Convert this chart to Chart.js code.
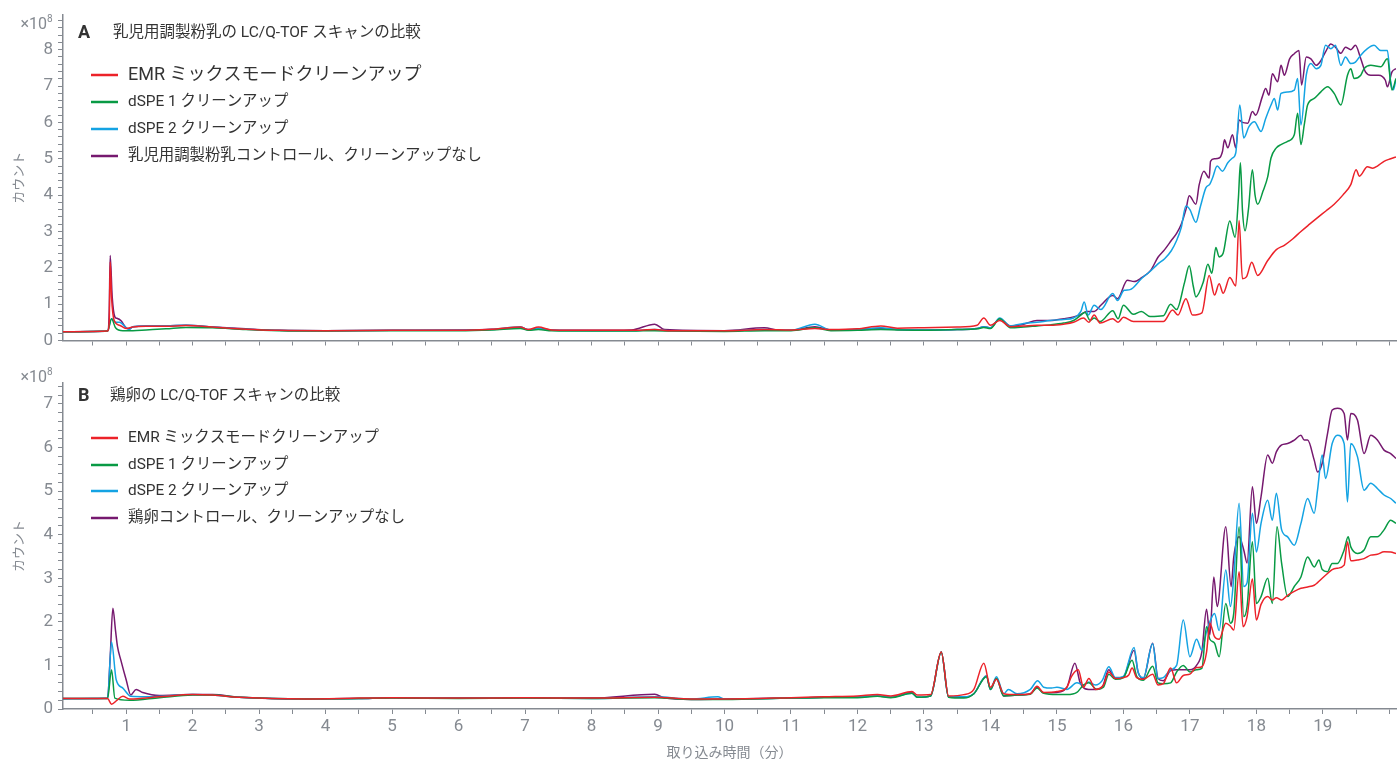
<!DOCTYPE html>
<html>
<head>
<meta charset="utf-8">
<script src="https://cdn.jsdelivr.net/npm/chart.js@4.4.1/dist/chart.umd.min.js"></script>
<style>
  html, body { margin: 0; padding: 0; background: #fff; }
  #wrapA { position: absolute; left: 0; top: 0; width: 1397px; height: 362px; }
  #wrapB { position: absolute; left: 0; top: 362px; width: 1397px; height: 400px; }
</style>
</head>
<body>
<div id="wrapA"><canvas id="chartA"></canvas></div>
<div id="wrapB"><canvas id="chartB"></canvas></div>
<script>
// Data: [retention time (min), counts (x10^8)]
const seriesNamesA = ["EMR ミックスモードクリーンアップ", "dSPE 1 クリーンアップ", "dSPE 2 クリーンアップ", "乳児用調製粉乳コントロール、クリーンアップなし"];
const seriesNamesB = ["EMR ミックスモードクリーンアップ", "dSPE 1 クリーンアップ", "dSPE 2 クリーンアップ", "鶏卵コントロール、クリーンアップなし"];
const yTicksA = [0, 1, 2, 3, 4, 5, 6, 7, 8];
const yTicksB = [0, 1, 2, 3, 4, 5, 6, 7];
const xTickLabels = [1, 2, 3, 4, 5, 6, 7, 8, 9, 10, 11, 12, 13, 14, 15, 16, 17, 18, 19];

const emrA = [[0.05,0.24],[0.5,0.25],[0.72,0.26],[0.745,0.5],[0.76,2.16],[0.78,1.2],[0.82,0.55],[0.9,0.42],[1.0,0.33],[1.1,0.37],[1.3,0.39],[1.6,0.39],[1.9,0.41],[2.3,0.37],[2.8,0.31],[3.3,0.28],[4,0.27],[5,0.28],[6,0.28],[6.5,0.31],[6.93,0.37],[7.05,0.3],[7.2,0.37],[7.4,0.29],[8,0.28],[8.6,0.28],[8.95,0.3],[9.2,0.27],[10,0.27],[10.6,0.3],[11,0.29],[11.36,0.33],[11.6,0.3],[12,0.32],[12.35,0.4],[12.6,0.34],[13,0.35],[13.5,0.37],[13.8,0.42],[13.9,0.62],[14.0,0.42],[14.14,0.55],[14.3,0.38],[14.5,0.4],[14.7,0.42],[14.9,0.42],[15.1,0.45],[15.25,0.5],[15.4,0.62],[15.48,0.5],[15.56,0.7],[15.65,0.48],[15.84,0.6],[15.92,0.5],[16.0,0.64],[16.15,0.52],[16.4,0.52],[16.6,0.52],[16.74,0.84],[16.82,0.7],[16.94,1.15],[17.04,0.7],[17.18,0.76],[17.29,1.79],[17.37,1.25],[17.44,1.56],[17.5,1.3],[17.6,1.73],[17.69,1.5],[17.74,3.3],[17.79,1.7],[17.85,1.75],[17.93,2.15],[18.02,1.79],[18.17,2.2],[18.3,2.5],[18.42,2.62],[18.55,2.8],[18.67,3.0],[18.8,3.2],[18.92,3.38],[19.05,3.57],[19.17,3.75],[19.3,4.0],[19.42,4.29],[19.5,4.7],[19.55,4.52],[19.67,4.78],[19.75,4.74],[19.82,4.8],[19.92,4.93],[20.02,5.0],[20.1,5.05]];
const dspe1A = [[0.05,0.24],[0.5,0.25],[0.72,0.26],[0.78,0.6],[0.84,0.35],[0.95,0.27],[1.1,0.27],[1.3,0.29],[1.6,0.32],[1.9,0.36],[2.3,0.35],[2.8,0.3],[3.3,0.27],[4,0.26],[5,0.27],[6,0.27],[6.5,0.29],[6.93,0.33],[7.05,0.28],[7.2,0.3],[7.4,0.27],[8,0.26],[8.6,0.26],[8.95,0.27],[9.2,0.26],[10,0.25],[10.6,0.27],[11,0.27],[11.36,0.35],[11.6,0.27],[12,0.28],[12.35,0.3],[12.6,0.29],[13,0.28],[13.5,0.3],[13.8,0.32],[13.9,0.36],[14.0,0.33],[14.14,0.6],[14.3,0.35],[14.5,0.37],[14.7,0.4],[14.9,0.43],[15.1,0.48],[15.25,0.55],[15.36,0.7],[15.42,0.78],[15.5,0.55],[15.56,0.62],[15.65,0.52],[15.84,0.82],[15.92,0.6],[16.0,0.97],[16.15,0.72],[16.27,0.8],[16.4,0.66],[16.6,0.68],[16.71,1.0],[16.8,0.85],[16.92,1.6],[16.99,2.06],[17.05,1.5],[17.09,1.2],[17.2,1.6],[17.27,2.1],[17.33,1.85],[17.39,2.56],[17.44,2.3],[17.5,2.4],[17.6,3.29],[17.68,2.84],[17.73,3.93],[17.76,4.89],[17.79,3.6],[17.83,3.02],[17.88,3.6],[17.94,4.7],[17.98,4.0],[18.02,3.75],[18.1,4.11],[18.17,4.5],[18.22,5.02],[18.3,5.3],[18.37,5.39],[18.47,5.48],[18.57,5.66],[18.62,6.25],[18.67,5.39],[18.72,5.93],[18.77,6.48],[18.87,6.66],[18.97,6.84],[19.07,6.98],[19.17,6.8],[19.27,6.48],[19.37,7.3],[19.42,7.48],[19.47,7.21],[19.57,7.3],[19.62,7.48],[19.72,7.57],[19.87,7.53],[19.97,7.75],[20.04,6.89],[20.1,7.21]];
const dspe2A = [[0.05,0.24],[0.5,0.25],[0.72,0.26],[0.78,0.6],[0.84,0.5],[0.9,0.5],[1.0,0.35],[1.05,0.3],[1.1,0.38],[1.3,0.4],[1.6,0.4],[1.9,0.42],[2.3,0.37],[2.8,0.31],[3.3,0.28],[4,0.27],[5,0.28],[6,0.28],[6.5,0.3],[6.93,0.38],[7.05,0.29],[7.2,0.33],[7.4,0.28],[8,0.27],[8.6,0.27],[8.95,0.3],[9.2,0.27],[10,0.26],[10.6,0.3],[11,0.28],[11.36,0.45],[11.6,0.29],[12,0.3],[12.35,0.35],[12.6,0.3],[13,0.29],[13.5,0.3],[13.8,0.33],[13.9,0.38],[14.0,0.35],[14.14,0.62],[14.3,0.4],[14.5,0.47],[14.7,0.5],[14.9,0.55],[15.1,0.58],[15.25,0.62],[15.36,0.8],[15.41,1.06],[15.47,0.7],[15.56,0.97],[15.66,0.85],[15.84,1.29],[15.91,1.1],[16.01,1.38],[16.1,1.4],[16.27,1.7],[16.4,1.9],[16.52,2.11],[16.62,2.25],[16.72,2.47],[16.8,2.75],[16.87,3.11],[16.94,3.7],[17.0,3.6],[17.09,3.25],[17.16,3.7],[17.24,4.2],[17.3,4.3],[17.34,4.47],[17.41,4.8],[17.49,4.66],[17.57,4.89],[17.64,5.02],[17.69,5.16],[17.75,6.48],[17.81,5.57],[17.89,5.89],[17.97,6.02],[18.07,5.75],[18.14,6.11],[18.22,6.48],[18.27,6.66],[18.32,6.34],[18.37,6.8],[18.47,6.84],[18.57,6.89],[18.62,7.21],[18.67,5.93],[18.75,7.3],[18.82,7.62],[18.9,7.48],[18.97,7.57],[19.04,8.12],[19.12,8.03],[19.19,8.12],[19.27,7.57],[19.34,7.8],[19.42,7.62],[19.49,7.66],[19.57,7.85],[19.67,8.03],[19.77,8.12],[19.87,7.98],[19.97,7.98],[20.02,7.12],[20.06,6.9],[20.1,7.2]];
const ctrlA = [[0.05,0.24],[0.5,0.25],[0.72,0.26],[0.745,0.8],[0.76,2.34],[0.79,1.2],[0.83,0.65],[0.86,0.61],[0.92,0.55],[1.0,0.35],[1.05,0.32],[1.1,0.38],[1.3,0.4],[1.6,0.4],[1.9,0.42],[2.3,0.37],[2.8,0.32],[3.3,0.28],[4,0.27],[5,0.28],[6,0.29],[6.5,0.31],[6.93,0.36],[7.05,0.3],[7.2,0.34],[7.4,0.29],[8,0.28],[8.6,0.29],[8.95,0.45],[9.1,0.3],[10,0.27],[10.6,0.35],[10.8,0.29],[11,0.28],[11.36,0.38],[11.6,0.29],[12,0.3],[12.35,0.33],[12.6,0.3],[13,0.29],[13.5,0.3],[13.8,0.33],[13.9,0.38],[14.0,0.35],[14.14,0.6],[14.3,0.4],[14.5,0.45],[14.7,0.55],[14.9,0.55],[15.1,0.6],[15.25,0.65],[15.36,0.72],[15.45,0.8],[15.56,0.8],[15.66,0.97],[15.84,1.24],[15.91,1.15],[16.06,1.66],[16.16,1.62],[16.27,1.72],[16.41,1.93],[16.52,2.29],[16.62,2.5],[16.72,2.75],[16.8,2.95],[16.87,3.2],[16.94,3.6],[16.99,3.98],[17.09,3.75],[17.14,4.29],[17.21,4.66],[17.29,4.47],[17.31,4.93],[17.37,5.0],[17.44,5.02],[17.49,5.2],[17.52,5.52],[17.57,5.3],[17.64,5.66],[17.69,5.3],[17.74,6.07],[17.79,6.0],[17.87,5.98],[17.94,6.3],[17.99,6.2],[18.09,6.71],[18.14,6.93],[18.19,6.75],[18.24,7.34],[18.32,7.12],[18.37,7.57],[18.42,7.3],[18.5,7.75],[18.57,7.89],[18.64,7.98],[18.68,7.03],[18.75,7.8],[18.82,7.75],[18.9,7.57],[18.97,7.7],[19.04,7.94],[19.12,8.16],[19.19,8.07],[19.27,7.9],[19.34,8.07],[19.42,8.0],[19.49,8.12],[19.57,7.75],[19.64,7.39],[19.72,7.3],[19.84,7.3],[19.94,7.16],[19.97,6.98],[20.04,7.39],[20.1,7.48]];

const emrB = [[0.05,0.24],[0.5,0.24],[0.72,0.24],[0.78,0.11],[0.86,0.2],[0.95,0.29],[1.05,0.23],[1.5,0.28],[2.0,0.33],[2.3,0.32],[2.7,0.27],[3.7,0.23],[4.5,0.25],[5,0.26],[6,0.25],[7,0.26],[8,0.25],[8.95,0.27],[9.5,0.23],[10,0.23],[11,0.26],[11.5,0.28],[12,0.3],[12.3,0.33],[12.5,0.3],[12.82,0.4],[12.9,0.32],[13.1,0.33],[13.26,1.31],[13.37,0.3],[13.6,0.33],[13.75,0.45],[13.9,1.05],[14.0,0.5],[14.09,0.68],[14.2,0.35],[14.4,0.33],[14.6,0.35],[14.7,0.52],[14.8,0.38],[15.0,0.4],[15.15,0.5],[15.22,0.75],[15.32,0.9],[15.4,0.5],[15.48,0.7],[15.58,0.45],[15.7,0.55],[15.78,0.85],[15.88,0.7],[16.0,0.72],[16.08,0.78],[16.13,0.94],[16.2,0.72],[16.3,0.68],[16.44,0.8],[16.52,0.55],[16.6,0.58],[16.71,0.94],[16.8,0.6],[16.9,0.77],[17.0,0.8],[17.1,0.95],[17.18,0.97],[17.25,1.3],[17.3,1.97],[17.37,1.66],[17.44,1.6],[17.54,1.97],[17.61,1.9],[17.66,1.81],[17.74,3.15],[17.8,1.89],[17.86,2.12],[17.94,2.98],[18.0,2.04],[18.07,2.4],[18.17,2.58],[18.24,2.5],[18.3,2.55],[18.38,2.5],[18.47,2.61],[18.57,2.7],[18.67,2.77],[18.77,2.8],[18.87,2.84],[18.92,2.9],[18.99,3.0],[19.07,3.11],[19.14,3.2],[19.22,3.23],[19.32,3.3],[19.37,3.84],[19.42,3.4],[19.52,3.42],[19.62,3.45],[19.72,3.53],[19.82,3.55],[19.92,3.61],[20.02,3.6],[20.1,3.57]];
const dspe1B = [[0.05,0.24],[0.5,0.24],[0.72,0.24],[0.78,0.9],[0.83,0.25],[1.05,0.2],[1.5,0.26],[2.0,0.32],[2.3,0.32],[2.7,0.27],[3.7,0.23],[4.5,0.24],[5,0.25],[6,0.24],[7,0.25],[8,0.24],[8.95,0.26],[9.5,0.22],[10,0.22],[11,0.25],[11.5,0.26],[12,0.26],[12.3,0.29],[12.5,0.26],[12.82,0.36],[12.9,0.27],[13.1,0.3],[13.26,1.3],[13.37,0.27],[13.6,0.25],[13.75,0.35],[13.94,0.74],[14.0,0.45],[14.09,0.7],[14.2,0.3],[14.4,0.32],[14.6,0.34],[14.7,0.48],[14.8,0.36],[15.0,0.33],[15.15,0.33],[15.3,0.38],[15.4,0.55],[15.48,0.6],[15.6,0.45],[15.7,0.5],[15.78,0.8],[15.88,0.68],[16.0,0.72],[16.13,1.12],[16.2,0.75],[16.3,0.66],[16.44,0.98],[16.52,0.6],[16.6,0.58],[16.71,0.6],[16.8,0.85],[16.9,1.0],[17.0,0.85],[17.1,0.9],[17.18,0.93],[17.25,1.89],[17.3,1.6],[17.37,1.51],[17.44,1.2],[17.54,2.42],[17.61,1.97],[17.66,2.2],[17.74,4.18],[17.81,2.12],[17.86,2.35],[17.94,3.84],[18.0,2.42],[18.07,2.58],[18.17,3.0],[18.24,2.42],[18.31,4.18],[18.38,3.34],[18.47,2.58],[18.57,2.81],[18.67,3.03],[18.77,3.49],[18.87,3.26],[18.94,3.42],[18.99,3.2],[19.07,3.15],[19.14,3.34],[19.22,3.34],[19.32,3.65],[19.38,3.95],[19.42,3.72],[19.52,3.57],[19.62,3.65],[19.72,3.95],[19.82,3.95],[19.92,4.11],[20.02,4.33],[20.1,4.26]];
const dspe2B = [[0.05,0.23],[0.5,0.24],[0.72,0.24],[0.78,1.54],[0.85,0.67],[0.95,0.48],[1.07,0.29],[1.3,0.28],[2.0,0.33],[2.3,0.32],[2.7,0.27],[3.7,0.23],[4.5,0.24],[5,0.26],[6,0.25],[7,0.25],[8,0.24],[8.95,0.28],[9.5,0.23],[9.9,0.28],[10,0.23],[11,0.25],[11.5,0.27],[12,0.28],[12.3,0.3],[12.5,0.27],[12.82,0.36],[12.9,0.27],[13.1,0.3],[13.26,1.3],[13.37,0.28],[13.6,0.28],[13.75,0.35],[13.94,0.76],[14.0,0.45],[14.09,0.74],[14.2,0.35],[14.27,0.45],[14.4,0.35],[14.6,0.45],[14.71,0.65],[14.8,0.5],[14.92,0.48],[15.0,0.5],[15.15,0.45],[15.3,0.6],[15.4,0.55],[15.48,0.62],[15.58,0.55],[15.68,0.65],[15.78,0.97],[15.88,0.72],[16.0,0.75],[16.16,1.41],[16.22,0.85],[16.3,0.72],[16.44,1.5],[16.52,0.7],[16.6,0.72],[16.71,0.9],[16.8,1.0],[16.9,2.04],[17.0,1.2],[17.1,1.6],[17.18,1.35],[17.25,1.77],[17.3,2.0],[17.37,2.19],[17.44,1.8],[17.54,3.19],[17.61,2.35],[17.66,3.03],[17.74,4.72],[17.81,2.81],[17.86,2.9],[17.94,4.49],[18.0,3.6],[18.07,4.26],[18.17,4.79],[18.24,4.33],[18.3,4.95],[18.38,4.11],[18.47,3.95],[18.57,3.76],[18.67,4.26],[18.77,4.83],[18.87,4.49],[18.92,5.02],[18.99,5.83],[19.04,5.29],[19.14,6.09],[19.22,6.28],[19.32,6.09],[19.37,4.75],[19.42,6.09],[19.52,5.79],[19.62,5.02],[19.72,5.18],[19.82,5.06],[19.92,4.91],[20.02,4.83],[20.1,4.72]];
const ctrlB = [[0.05,0.24],[0.5,0.24],[0.72,0.25],[0.76,1.2],[0.8,2.31],[0.84,1.8],[0.87,1.43],[0.92,1.12],[1.0,0.67],[1.07,0.32],[1.15,0.45],[1.25,0.38],[1.5,0.31],[2.0,0.33],[2.3,0.33],[2.7,0.27],[3.7,0.23],[4.5,0.24],[5,0.26],[6,0.25],[7,0.26],[8,0.25],[8.95,0.34],[9.1,0.25],[9.5,0.22],[10,0.23],[11,0.25],[11.5,0.27],[12,0.28],[12.3,0.3],[12.5,0.27],[12.82,0.38],[12.9,0.27],[13.1,0.3],[13.26,1.31],[13.37,0.27],[13.6,0.27],[13.75,0.35],[13.94,0.76],[14.0,0.45],[14.09,0.7],[14.2,0.3],[14.4,0.32],[14.6,0.35],[14.7,0.5],[14.8,0.37],[15.0,0.38],[15.15,0.5],[15.27,1.05],[15.35,0.6],[15.48,0.45],[15.58,0.45],[15.68,0.5],[15.78,0.9],[15.88,0.7],[16.0,0.73],[16.16,1.35],[16.22,0.85],[16.3,0.7],[16.44,1.51],[16.52,0.7],[16.6,0.65],[16.71,0.88],[16.8,0.9],[16.9,0.9],[17.0,0.9],[17.1,1.0],[17.18,1.31],[17.25,2.29],[17.3,1.7],[17.36,3.03],[17.41,2.35],[17.54,4.18],[17.62,2.81],[17.66,3.49],[17.74,3.95],[17.81,3.65],[17.86,3.35],[17.94,5.1],[18.0,4.26],[18.07,4.87],[18.17,5.83],[18.24,5.64],[18.3,5.9],[18.38,6.06],[18.47,6.09],[18.57,6.17],[18.67,6.28],[18.72,6.17],[18.77,6.17],[18.87,5.71],[18.92,5.44],[18.99,5.64],[19.07,6.32],[19.14,6.86],[19.22,6.9],[19.32,6.78],[19.37,6.17],[19.42,6.78],[19.52,6.63],[19.62,5.86],[19.72,6.28],[19.82,6.17],[19.92,5.94],[20.02,5.86],[20.1,5.75]];

const COLORS = ["#ec2229", "#089a44", "#14a3e3", "#76196f"];
const FONT = "Roboto, 'Noto Sans CJK JP', sans-serif";
const GRAY = "#858a91";
const TEXT = "#333333";

// Titles, legend and exponent label drawn inside each chart
const overlayText = {
  id: "overlayText",
  afterDraw(chart, args, opts) {
    const ctx = chart.ctx;
    ctx.save();
    ctx.textBaseline = "middle";

    // ×10^8
    ctx.fillStyle = GRAY;
    ctx.textAlign = "right";
    ctx.font = "16px " + FONT;
    ctx.fillText("×10", 47, opts.expY);
    ctx.font = "10px " + FONT;
    ctx.textAlign = "left";
    ctx.fillText("8", 47, opts.expY - 6);

    // Panel letter and title
    ctx.fillStyle = TEXT;
    ctx.font = "bold 18px " + FONT;
    ctx.fillText(opts.letter, 78, opts.titleY);
    ctx.font = "15.5px " + FONT;
    ctx.fillText(opts.title, opts.titleX, opts.titleY);

    // Legend
    opts.names.forEach(function (name, i) {
      const y = opts.legendY[i];
      ctx.strokeStyle = COLORS[i];
      ctx.lineWidth = 2.5;
      ctx.beginPath();
      ctx.moveTo(91, y);
      ctx.lineTo(118, y);
      ctx.stroke();
      ctx.fillStyle = TEXT;
      ctx.font = opts.legendSize[i] + "px " + FONT;
      ctx.fillText(name, 128, y);
    });
    ctx.restore();
  },
};

function makeDatasets(seriesList, names) {
  return seriesList.map(function (s, i) {
    return {
      label: names[i],
      data: s.map(function (p) { return { x: p[0], y: p[1] }; }),
      borderColor: COLORS[i],
      borderWidth: 1.5,
      pointRadius: 0,
      fill: false,
      cubicInterpolationMode: "monotone",
    };
  });
}

function makeChart(canvasId, cfg) {
  return new Chart(document.getElementById(canvasId), {
    type: "line",
    data: { datasets: makeDatasets(cfg.series, cfg.names) },
    plugins: [overlayText],
    options: {
      responsive: true,
      maintainAspectRatio: false,
      animation: false,
      layout: { padding: { top: cfg.padTop, right: 1, left: 0, bottom: 0 } },
      plugins: {
        legend: { display: false },
        tooltip: { enabled: false },
        overlayText: {
          expY: cfg.expY,
          letter: cfg.letter,
          title: cfg.title,
          titleX: cfg.titleX,
          titleY: cfg.titleY,
          names: cfg.names,
          legendY: cfg.legendY,
          legendSize: cfg.legendSize,
        },
      },
      scales: {
        x: {
          type: "linear",
          min: 0.05,
          max: 20.1,
          afterBuildTicks: function (scale) {
            const t = [];
            for (let v = 0.5; v <= 20; v += 0.5) t.push({ value: v });
            scale.ticks = t;
          },
          afterFit: function (scale) { scale.height = cfg.xHeight; },
          border: { display: true, color: GRAY, width: 1.5 },
          grid: { drawOnChartArea: false, drawTicks: true, tickLength: 5, color: GRAY },
          ticks: {
            display: cfg.showX,
            autoSkip: false,
            maxRotation: 0,
            padding: 3,
            color: GRAY,
            font: { family: FONT, size: 17 },
            callback: function (v) {
              return xTickLabels.indexOf(v) >= 0 ? String(v) : "";
            },
          },
          title: {
            display: cfg.showX,
            text: "取り込み時間（分）",
            color: GRAY,
            font: { family: FONT, size: 14 },
            padding: { top: 2, bottom: 0 },
          },
        },
        y: {
          min: 0,
          max: cfg.yMax,
          afterBuildTicks: function (scale) {
            const t = [];
            for (let i = 0; i * 0.2 <= cfg.yMax; i++) t.push({ value: Math.round(i * 2) / 10 });
            scale.ticks = t;
          },
          afterFit: function (scale) { scale.width = 63; },
          border: { display: true, color: GRAY, width: 1.5 },
          grid: { drawOnChartArea: false, drawTicks: true, tickLength: 5, color: GRAY },
          ticks: {
            autoSkip: false,
            padding: 5,
            color: GRAY,
            font: { family: FONT, size: 17 },
            callback: function (v) {
              return cfg.yTicks.indexOf(v) >= 0 ? String(v) : "";
            },
          },
          title: {
            display: true,
            text: "カウント",
            color: GRAY,
            font: { family: FONT, size: 13 },
            padding: { top: 12, bottom: 0 },
          },
        },
      },
    },
  });
}

makeChart("chartA", {
  series: [emrA, dspe1A, dspe2A, ctrlA],
  names: seriesNamesA,
  yMax: 8.95,
  yTicks: yTicksA,
  padTop: 13,
  xHeight: 21.5,
  showX: false,
  expY: 25,
  letter: "A",
  title: "乳児用調製粉乳の LC/Q-TOF スキャンの比較",
  titleX: 113,
  titleY: 33,
  legendY: [75, 102, 129, 156],
  legendSize: [18, 15.4, 15.4, 15.4],
});

makeChart("chartB", {
  series: [emrB, dspe1B, dspe2B, ctrlB],
  names: seriesNamesB,
  yMax: 7.48,
  yTicks: yTicksB,
  padTop: 21,
  xHeight: 53,
  showX: true,
  expY: 16,
  letter: "B",
  title: "鶏卵の LC/Q-TOF スキャンの比較",
  titleX: 110,
  titleY: 34,
  legendY: [76, 103, 129, 156],
  legendSize: [15.4, 15.4, 15.4, 15.4],
});
</script>
</body>
</html>
